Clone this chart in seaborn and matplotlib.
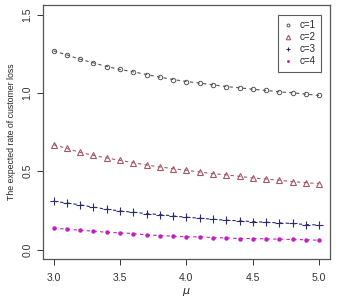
import numpy as np
import pandas as pd
import matplotlib
matplotlib.use("Agg")
import matplotlib.pyplot as plt
import seaborn as sns

mu = [3.0, 3.1, 3.2, 3.3, 3.4, 3.5, 3.6, 3.7, 3.8, 3.9, 4.0,
      4.1, 4.2, 4.3, 4.4, 4.5, 4.6, 4.7, 4.8, 4.9, 5.0]
c1 = [1.268, 1.242, 1.214, 1.191, 1.168, 1.149, 1.134, 1.117, 1.100, 1.085, 1.072,
      1.062, 1.051, 1.040, 1.032, 1.023, 1.015, 1.006, 1.000, 0.992, 0.983]
c2 = [0.669, 0.645, 0.620, 0.601, 0.584, 0.569, 0.554, 0.539, 0.527, 0.516, 0.505,
      0.495, 0.484, 0.476, 0.467, 0.456, 0.450, 0.442, 0.433, 0.427, 0.420]
c3 = [0.308, 0.297, 0.285, 0.270, 0.257, 0.246, 0.238, 0.229, 0.223, 0.214, 0.206,
      0.200, 0.193, 0.187, 0.183, 0.178, 0.174, 0.170, 0.166, 0.159, 0.157]
c4 = [0.136, 0.130, 0.123, 0.117, 0.110, 0.106, 0.102, 0.093, 0.089, 0.085, 0.081,
      0.081, 0.076, 0.074, 0.070, 0.070, 0.068, 0.066, 0.064, 0.062, 0.059]
labels = ["c=1", "c=2", "c=3", "c=4"]

df = pd.DataFrame({"mu": mu * 4, "loss": c1 + c2 + c3 + c4,
                   "c": np.repeat(labels, len(mu))})

sns.set_style("white")
plt.rcParams["font.family"] = ["Liberation Sans", "DejaVu Sans"]

fig = plt.figure(figsize=(3.38, 3.0), dpi=100)
ax = fig.add_axes([0.127, 0.137, 0.849, 0.846])

styles = {
    "c=1": dict(color="#555555", marker="o", ms=3.2, mfc="none", mew=0.7),
    "c=2": dict(color="#a35868", marker="^", ms=5, mfc="none", mew=0.8),
    "c=3": dict(color="#2b2b6e", marker="+", ms=5.5, mew=0.8),
    "c=4": dict(color="#c21fc2", marker="o", ms=3.2, mew=0),
}
for lab in labels:
    st = styles[lab]
    sns.lineplot(data=df[df["c"] == lab], x="mu", y="loss", ax=ax,
                 color=st["color"], marker=st["marker"], markersize=st["ms"],
                 markerfacecolor=st.get("mfc", st["color"]),
                 markeredgecolor=st["color"], markeredgewidth=st["mew"],
                 linestyle=(0, (3, 3)), linewidth=0.8, label=lab)

ax.set_xlim(2.92, 5.08)
ax.set_ylim(-0.06, 1.56)
ax.set_xticks([3.0, 3.5, 4.0, 4.5, 5.0])
ax.set_xticklabels(["3.0", "3.5", "4.0", "4.5", "5.0"])
ax.set_yticks([0.0, 0.5, 1.0, 1.5])
ax.set_yticklabels(["0.0", "0.5", "1.0", "1.5"], rotation=90, va="center")
ax.tick_params(axis="both", labelsize=7.5, length=4, width=0.7,
               direction="out", colors="#333333", bottom=True, left=True)
ax.tick_params(axis="x", pad=6)
for s in ax.spines.values():
    s.set_color("#555555")
    s.set_linewidth(0.9)

ax.set_xlabel("$\\mu$", fontsize=8, labelpad=2)
ax.set_ylabel("The expected rate of customer loss", fontsize=6.3, labelpad=5)

leg = ax.legend(loc="upper right", bbox_to_anchor=(0.969, 0.961), fontsize=7,
                frameon=True, fancybox=False, handlelength=1.0,
                handletextpad=0.7, borderpad=0.55, labelspacing=0.2,
                borderaxespad=0, markerscale=0.65)
for h in leg.get_lines():
    h.set_linestyle("none")
leg.get_frame().set_edgecolor("#333333")
leg.get_frame().set_linewidth(0.8)

fig.savefig("out.png", dpi=100)
